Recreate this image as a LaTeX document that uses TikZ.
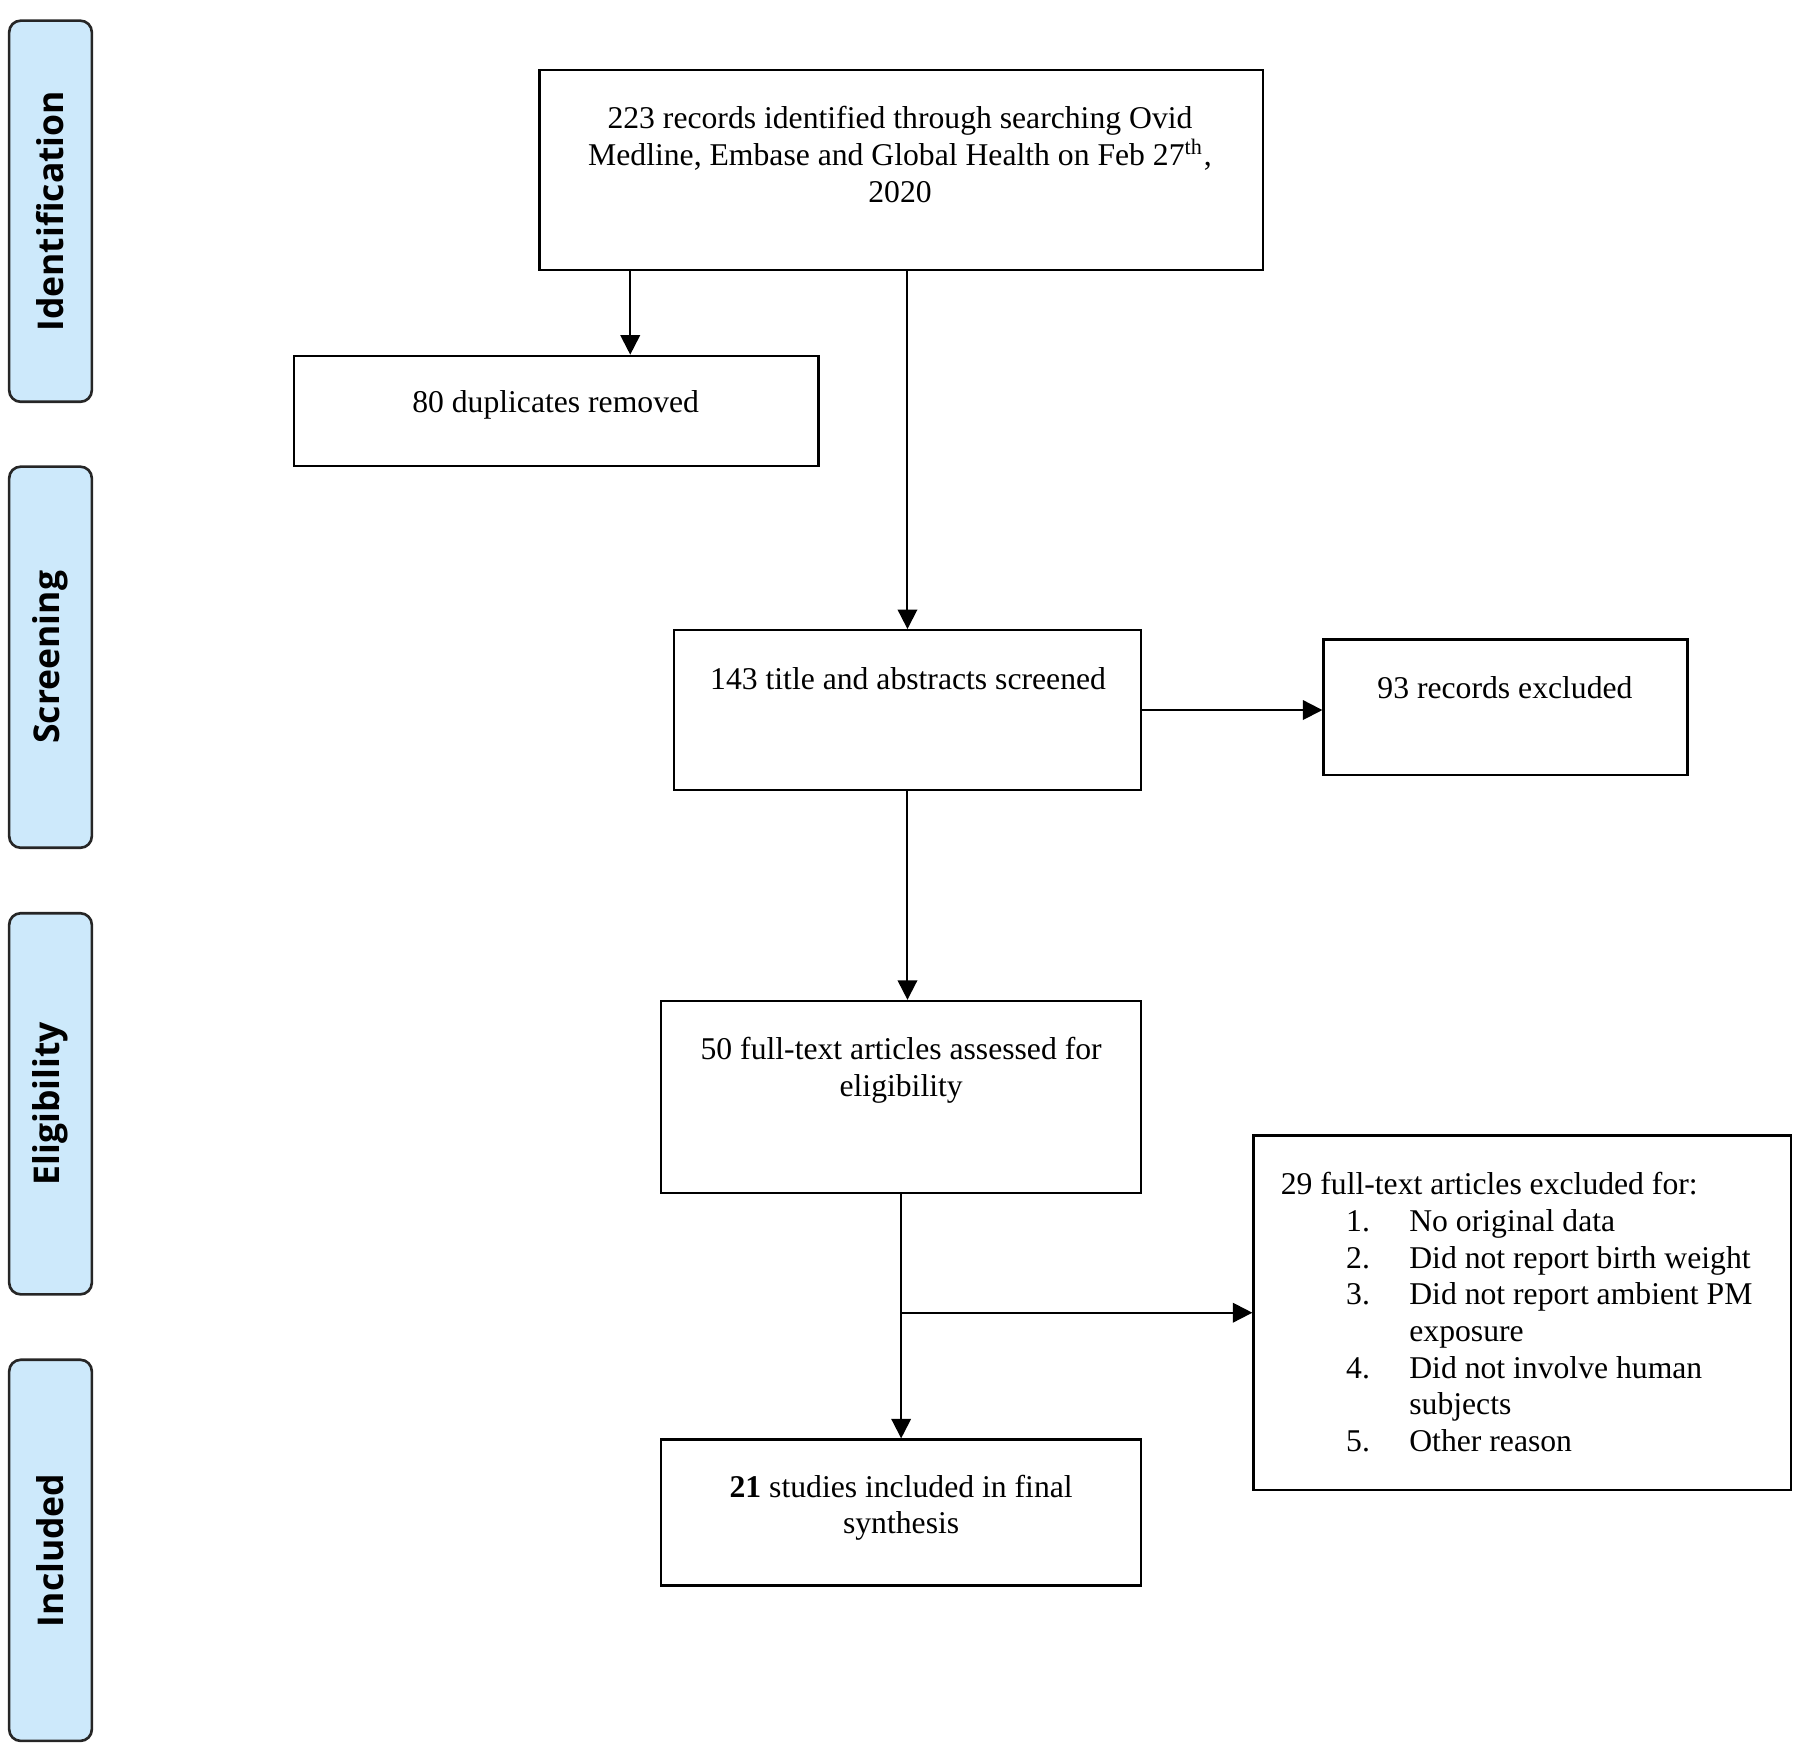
\documentclass[tikz,border=0pt]{standalone}
\usepackage{fontspec}
\setmainfont{Liberation Serif}
\newfontfamily\lanefont{Open Sans}
\usetikzlibrary{arrows.meta,calc}
\definecolor{lanefill}{RGB}{205,233,251}

\begin{document}
\begin{tikzpicture}[font=\fontsize{7.85}{9.1}\selectfont,
    lane/.style={draw=black!85, line width=0.65pt, fill=lanefill, rounded corners=1mm,
      minimum width=0.72cm, minimum height=3.32cm, inner sep=0pt},
    lanetext/.style={rotate=90, font=\lanefont\bfseries\fontsize{8.8}{10}\selectfont},
    box/.style={draw, line width=0.6pt, inner sep=0pt},
    txt/.style={align=center, inner sep=0pt},
    arr/.style={line width=0.5pt, -{Triangle[length=1.7mm, width=1.7mm]}}]
  \useasboundingbox (0,0) rectangle (15.68,-15.29);

  % phase lanes on the left
  \node[lane] (identlane) at (0.44,-1.84) {};
  \node[lane] (screenlane) at (0.44,-5.725) {};
  \node[lane] (eliglane) at (0.44,-9.615) {};
  \node[lane] (incllane) at (0.44,-13.505) {};
  \node[lanetext] (identlbl) at (identlane) {Identification};
  \node[lanetext] (screenlbl) at (screenlane) {Screening};
  \node[lanetext] (eliglbl) at (eliglane) {Eligibility};
  \node[lanetext] (incllbl) at (incllane) {Included};

  % boxes
  \node[box, minimum width=6.30cm, minimum height=1.74cm] (records) at (7.85,-1.48) {};
  \node[box, minimum width=4.57cm, minimum height=0.96cm] (dups) at (4.845,-3.58) {};
  \node[box, minimum width=4.07cm, minimum height=1.39cm] (screened) at (7.905,-6.185) {};
  \node[box, minimum width=3.17cm, minimum height=1.18cm] (excl) at (13.115,-6.16) {};
  \node[box, minimum width=4.18cm, minimum height=1.67cm] (fulltext) at (7.85,-9.555) {};
  \node[box, minimum width=4.68cm, minimum height=3.09cm] (ftexcl) at (13.26,-11.435) {};
  \node[box, minimum width=4.18cm, minimum height=1.27cm] (included) at (7.85,-13.175) {};

  % texts
  \node[txt] (recordstxt) at (7.84,-1.345) {223 records identified through searching Ovid\\
    Medline, Embase and Global Health on Feb 27\textsuperscript{th},\\ 2020};
  \node[txt] (dupstxt) at (4.84,-3.53) {80 duplicates removed};
  \node[txt] (screenedtxt) at (7.91,-5.91) {143 title and abstracts screened};
  \node[txt] (excltxt) at (13.11,-5.99) {93 records excluded};
  \node[txt] (fulltexttxt) at (7.85,-9.32) {50 full-text articles assessed for\\ eligibility};
  \node[txt, align=left, anchor=west] (ftexcltxt) at (11.15,-11.43) {29 full-text articles excluded for:\\
    \hspace*{0.57cm}\makebox[0.55cm][l]{1.}No original data\\
    \hspace*{0.57cm}\makebox[0.55cm][l]{2.}Did not report birth weight\\
    \hspace*{0.57cm}\makebox[0.55cm][l]{3.}Did not report ambient PM\\
    \hspace*{1.12cm}exposure\\
    \hspace*{0.57cm}\makebox[0.55cm][l]{4.}Did not involve human\\
    \hspace*{1.12cm}subjects\\
    \hspace*{0.57cm}\makebox[0.55cm][l]{5.}Other reason};
  \node[txt] (includedtxt) at (7.85,-13.135) {\textbf{21} studies included in final\\ synthesis};

  % arrows
  \coordinate (split) at (fulltext.south |- ftexcl.west);
  \draw[arr] ([xshift=-2.36cm]records.south) -- ([xshift=-2.36cm]records.south |- dups.north);
  \draw[arr] (screened.north |- records.south) -- (screened.north);
  \draw[arr] (screened.east) -- (screened.east -| excl.west);
  \draw[arr] (screened.south) -- (screened.south |- fulltext.north);
  \draw[arr] (fulltext.south) -- (included.north);
  \draw[arr] (split) -- (ftexcl.west);
\end{tikzpicture}
\end{document}
